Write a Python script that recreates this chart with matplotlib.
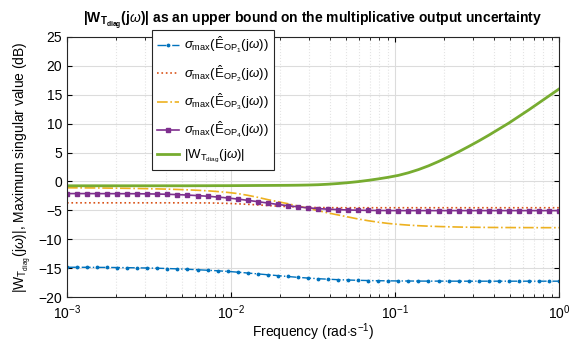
import numpy as np
import matplotlib
matplotlib.use('Agg')
import matplotlib.pyplot as plt

plt.rcParams['font.family'] = 'Liberation Sans'
plt.rcParams['mathtext.fontset'] = 'custom'
plt.rcParams['mathtext.rm'] = 'Liberation Sans'
plt.rcParams['mathtext.it'] = 'Liberation Sans:italic'
plt.rcParams['mathtext.bf'] = 'Liberation Sans:bold'

# frequency grid (rad/s), 50 log-spaced samples
freq = np.logspace(-3, 0, 50)

# max singular values (dB)
e_op1 = [-14.85, -14.85, -14.86, -14.87, -14.88, -14.90, -14.92, -14.95, -14.98, -15.02,
         -15.07, -15.13, -15.20, -15.28, -15.37, -15.46, -15.57, -15.70, -15.85, -16.00,
         -16.15, -16.30, -16.45, -16.60, -16.72, -16.83, -16.92, -17.00, -17.06, -17.11,
         -17.15, -17.18, -17.20, -17.22, -17.23, -17.24, -17.25, -17.25, -17.25, -17.26,
         -17.26, -17.26, -17.26, -17.26, -17.26, -17.26, -17.26, -17.26, -17.26, -17.26]
e_op2 = [-3.70, -3.70, -3.70, -3.70, -3.70, -3.70, -3.70, -3.70, -3.70, -3.70,
         -3.70, -3.70, -3.71, -3.71, -3.72, -3.75, -3.80, -3.87, -3.96, -4.06,
         -4.17, -4.27, -4.36, -4.43, -4.48, -4.52, -4.54, -4.55, -4.55, -4.55,
         -4.55, -4.55, -4.55, -4.55, -4.55, -4.55, -4.55, -4.55, -4.55, -4.55,
         -4.55, -4.55, -4.55, -4.55, -4.55, -4.55, -4.55, -4.55, -4.55, -4.55]
e_op3 = [-1.10, -1.11, -1.12, -1.13, -1.15, -1.17, -1.19, -1.22, -1.25, -1.29,
         -1.33, -1.39, -1.45, -1.53, -1.62, -1.75, -1.90, -2.10, -2.40, -2.75,
         -3.15, -3.50, -3.85, -4.25, -4.65, -5.05, -5.45, -5.80, -6.15, -6.50,
         -6.80, -7.05, -7.27, -7.43, -7.56, -7.66, -7.74, -7.80, -7.85, -7.89,
         -7.92, -7.94, -7.96, -7.97, -7.98, -7.99, -7.99, -8.00, -8.00, -8.00]
e_op4 = [-2.10, -2.10, -2.10, -2.11, -2.11, -2.12, -2.12, -2.13, -2.15, -2.18,
         -2.22, -2.28, -2.36, -2.45, -2.56, -2.70, -2.86, -3.05, -3.27, -3.50,
         -3.74, -3.98, -4.20, -4.40, -4.57, -4.70, -4.80, -4.88, -4.94, -4.98,
         -5.01, -5.03, -5.04, -5.05, -5.05, -5.05, -5.05, -5.05, -5.05, -5.05,
         -5.05, -5.05, -5.05, -5.05, -5.05, -5.05, -5.05, -5.05, -5.05, -5.05]
w_tdiag = [-0.75, -0.75, -0.75, -0.75, -0.75, -0.75, -0.75, -0.75, -0.75, -0.75,
           -0.75, -0.75, -0.75, -0.74, -0.74, -0.73, -0.73, -0.72, -0.71, -0.70,
           -0.69, -0.68, -0.67, -0.65, -0.62, -0.57, -0.48, -0.36, -0.21, -0.03,
           0.19, 0.44, 0.72, 1.05, 1.50, 2.05, 2.70, 3.45, 4.27, 5.13,
           6.05, 7.00, 8.00, 9.05, 10.10, 11.25, 12.40, 13.60, 14.80, 16.00]

labels = [r'$\sigma_{\mathrm{max}}(\hat{\mathrm{E}}_{\mathrm{OP}_{1}}(\mathrm{j}\omega))$',
          r'$\sigma_{\mathrm{max}}(\hat{\mathrm{E}}_{\mathrm{OP}_{2}}(\mathrm{j}\omega))$',
          r'$\sigma_{\mathrm{max}}(\hat{\mathrm{E}}_{\mathrm{OP}_{3}}(\mathrm{j}\omega))$',
          r'$\sigma_{\mathrm{max}}(\hat{\mathrm{E}}_{\mathrm{OP}_{4}}(\mathrm{j}\omega))$',
          r'$|\mathrm{W}_{\mathrm{T}_{\mathrm{diag}}}(\mathrm{j}\omega)|$']

fig = plt.figure(figsize=(5.79, 3.45), dpi=100)
ax = fig.add_axes([0.1157, 0.1391, 0.8498, 0.7537])

ax.semilogx(freq, e_op1, color='#0072BD', ls='-.', lw=1, marker='.', ms=3.5, label=labels[0])
ax.semilogx(freq, e_op2, color='#D95319', ls=':', lw=1.2, label=labels[1])
ax.semilogx(freq, e_op3, color='#EDB120', ls='-.', lw=1.2, label=labels[2])
ax.semilogx(freq, e_op4, color='#7E2F8E', ls='-', lw=1.2, marker='s', ms=2.3, label=labels[3])
ax.semilogx(freq, w_tdiag, color='#77AC30', ls='-', lw=2, label=labels[4])

ax.set_xlim(1e-3, 1)
ax.set_ylim(-20, 25)
ax.set_yticks(range(-20, 26, 5))
ax.grid(True, which='major', color='#dcdcdc', lw=0.8)
ax.grid(True, which='minor', axis='x', color='#e4e4e4', ls=':', lw=0.8)
ax.tick_params(which='both', direction='in', top=True, right=True, labelsize=10)
ax.tick_params(axis='x', pad=4.5)
for s in ax.spines.values():
    s.set_color('#262626')
    s.set_linewidth(0.8)

ax.set_xlabel(r'Frequency (rad$\cdot$s$^{-1}$)', fontsize=10, labelpad=0)
ax.set_ylabel(r'$|\mathrm{W}_{\mathrm{T}_{\mathrm{diag}}}(\mathrm{j}\omega)|$, Maximum singular value (dB)', fontsize=10)
ax.set_title(r'$\mathbf{|W}_{\mathbf{T}_{\mathbf{diag}}}\mathbf{(j}\omega\mathbf{)|}$ as an upper bound on the multiplicative output uncertainty',
             fontsize=10, fontweight='bold', pad=10)

leg = ax.legend(loc='upper left', bbox_to_anchor=(0.173, 1.027), fontsize=9.5, fancybox=False,
                framealpha=1, edgecolor='#262626', handlelength=1.6, handletextpad=0.4,
                labelspacing=0.6, borderaxespad=0)
leg.get_frame().set_linewidth(0.8)

fig.savefig('out.png', dpi=100)
